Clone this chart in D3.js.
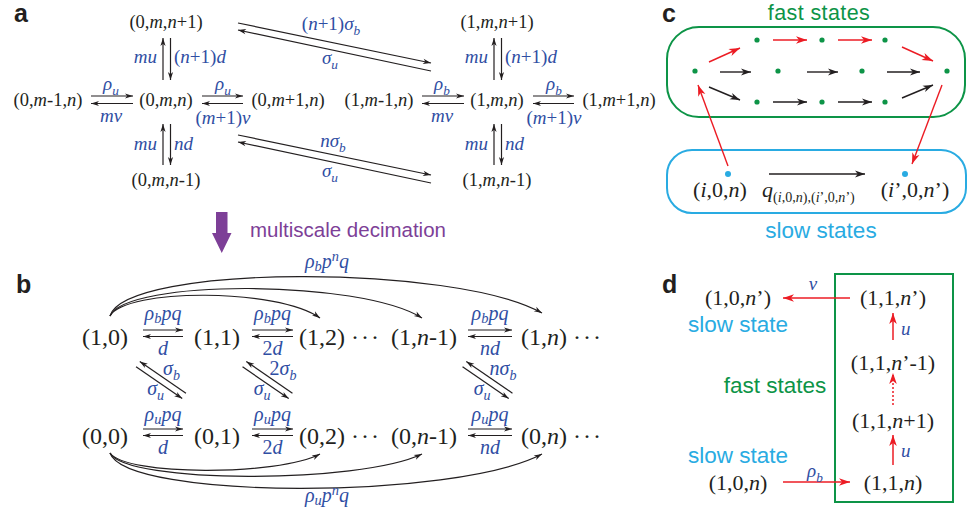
<!DOCTYPE html>
<html><head><meta charset="utf-8">
<script src="https://cdn.jsdelivr.net/npm/d3@7"></script>
<style>body{margin:0;background:#fff}svg{display:block}</style>
</head><body>
<svg id="fig" width="968" height="515"></svg>
<script>
// ---------------- data (labels / rates) ----------------
const panelLetters = ["a", "b", "c", "d"];
// panel a: [top, left, centre, right, bottom] for the unbound (0) and bound (1) promoter
const aStatesUnbound = ["(0,*m*,*n*+1)", "(0,*m*-1,*n*)", "(0,*m*,*n*)", "(0,*m*+1,*n*)", "(0,*m*,*n*-1)"];
const aStatesBound   = ["(1,*m*,*n*+1)", "(1,*m*-1,*n*)", "(1,*m*,*n*)", "(1,*m*+1,*n*)", "(1,*m*,*n*-1)"];
const aBirthRates    = ["*ρ*_{*u*}", "*ρ*_{*b*}"];
const aDeathLeft     = ["*mv*", "*mv*"];
const aDeathRight    = ["(*m*+1)*v*", "(*m*+1)*v*"];
const aUpRates       = ["*mu*", "*mu*"];
const aDownRates     = ["(*n*+1)*d*", "*nd*"];
const aSwitchOn      = ["(*n*+1)*σ*_{*b*}", "*nσ*_{*b*}"];
const aSwitchOff     = ["*σ*_{*u*}", "*σ*_{*u*}"];
const decimationText = "multiscale decimation";
// panel b
const bTopStates    = ["(1,0)", "(1,1)", "(1,2)", "···", "(1,*n*-1)", "(1,*n*)", "···"];
const bBottomStates = ["(0,0)", "(0,1)", "(0,2)", "···", "(0,*n*-1)", "(0,*n*)", "···"];
const bStepPairs    = [[0, 1], [1, 2], [4, 5]];
const bTopForward   = ["*ρ*_{*b*}*pq*", "*ρ*_{*b*}*pq*", "*ρ*_{*b*}*pq*"];
const bBottomForward= ["*ρ*_{*u*}*pq*", "*ρ*_{*u*}*pq*", "*ρ*_{*u*}*pq*"];
const bBackward     = ["*d*", "2*d*", "*nd*"];
const bSwitchBind   = ["*σ*_{*b*}", "2*σ*_{*b*}", "*nσ*_{*b*}"];
const bSwitchUnbind = ["*σ*_{*u*}", "*σ*_{*u*}", "*σ*_{*u*}"];
const bJumpTargets  = [2, 4, 5];
const bJumpTop      = "*ρ*_{*b*}*p*^{*n*}*q*";
const bJumpBottom   = "*ρ*_{*u*}*p*^{*n*}*q*";
// panel c
const cGroupTitles  = ["fast states", "slow states"];
const cFastRowSizes = [3, 4, 3];
const cSlowStates   = ["(*i*,0,*n*)", "(*i*’,0,*n*’)"];
const cEffectiveRate= "*q*_{(*i*,0,*n*),(*i*’,0,*n*’)}";
// panel d
const dFastChain    = ["(1,1,*n*)", "(1,1,*n*+1)", "(1,1,*n*’-1)", "(1,1,*n*’)"];
const dSlowStates   = ["(1,0,*n*)", "(1,0,*n*’)"];
const dChainRates   = ["*u*", "*u*"];
const dEntryRate    = "*ρ*_{*b*}";
const dExitRate     = "*v*";
const dGroupLabels  = ["slow state", "fast states", "slow state"];

// ---------------- styles ----------------
const SERIF = "'Liberation Serif','Times New Roman',serif";
const SANS  = "'Liberation Sans',Arial,Helvetica,sans-serif";
const INK = "#231f20", BLUE = "#2f4ea3", RED = "#ec1c24", GREEN = "#0d9447", SKY = "#29abe2", PURPLE = "#7d3f97";

const svg = d3.select("#fig");
svg.append("rect").attr("width", 968).attr("height", 515).attr("fill", "#fff");
const defs = svg.append("defs");
function marker(id, color, len, half) {
  defs.append("marker").attr("id", id)
    .attr("viewBox", `${-len - 1} ${-half - 1} ${len + 2} ${2 * half + 2}`)
    .attr("refX", 0).attr("refY", 0)
    .attr("markerWidth", len + 2).attr("markerHeight", 2 * half + 2)
    .attr("markerUnits", "userSpaceOnUse").attr("orient", "auto")
    .append("path").attr("d", `M0,0L${-len},${-half}L${-len * 0.72},0L${-len},${half}Z`).attr("fill", color);
}
marker("ak", INK, 8, 2.6);
marker("akl", INK, 10, 3.4);
marker("ar", RED, 11, 3.8);

function parseRich(str) {
  const segs = []; let italic = false, buf = "", i = 0;
  const flush = () => { if (buf) segs.push({ t: buf, italic, pos: 0 }); buf = ""; };
  while (i < str.length) {
    const ch = str[i];
    if (ch === "*") { flush(); italic = !italic; i++; }
    else if (ch === "_" || ch === "^") {
      flush();
      const pos = ch === "_" ? "sub" : "sup"; i++;
      let grp;
      if (str[i] === "{") { const j = str.indexOf("}", i); grp = str.slice(i + 1, j); i = j + 1; }
      else { grp = str[i]; i++; }
      let b2 = "";
      for (const c of grp) {
        if (c === "*") { if (b2) segs.push({ t: b2, italic, pos }); b2 = ""; italic = !italic; }
        else b2 += c;
      }
      if (b2) segs.push({ t: b2, italic, pos });
    } else { buf += ch; i++; }
  }
  flush();
  return segs;
}
function rich(g, str, x, y, o) {
  const fs = o.size;
  const t = g.append("text").attr("x", x).attr("y", y)
    .attr("font-family", o.family || SERIF).attr("font-size", fs)
    .attr("fill", o.color || INK).attr("text-anchor", o.anchor || "middle");
  if (o.spacing) t.attr("letter-spacing", o.spacing);
  let cur = 0;
  parseRich(str).forEach(s => {
    const shift = s.pos === "sub" ? fs * (o.subDrop || 0.24) : s.pos === "sup" ? -fs * 0.36 : 0;
    t.append("tspan").attr("dy", shift - cur)
      .attr("font-size", s.pos ? fs * (o.subScale || 0.7) : null)
      .attr("font-style", s.italic ? "italic" : "normal").text(s.t);
    cur = shift;
  });
  return t;
}
function line(g, x1, y1, x2, y2, o = {}) {
  const l = g.append("line").attr("x1", x1).attr("y1", y1).attr("x2", x2).attr("y2", y2)
    .attr("stroke", o.color || INK).attr("stroke-width", o.width || 1.2);
  if (o.marker) l.attr("marker-end", `url(#${o.marker})`);
  if (o.dash) l.attr("stroke-dasharray", o.dash);
  return l;
}
function letter(txt, x, y) {
  svg.append("text").attr("x", x).attr("y", y).attr("font-family", SANS).attr("font-weight", "bold")
    .attr("font-size", 25).attr("fill", INK).text(txt);
}

// ---------------- panel letters ----------------
const letterPos = [[14, 22], [16, 293], [662, 22], [662, 293]];
panelLetters.forEach((L, k) => letter(L, letterPos[k][0], letterPos[k][1]));

// ---------------- panel a ----------------
const gA = svg.append("g");
const aCx = d3.scaleOrdinal().domain([0, 1]).range([166, 497]);
const aRowY = d3.scaleOrdinal().domain(["top", "mid", "bot"]).range([28, 106, 186]);
const SA = 18.5, RA = 19;
[aStatesUnbound, aStatesBound].forEach((states, k) => {
  const cx = aCx(k);
  rich(gA, states[0], cx, aRowY("top"), { size: SA });
  rich(gA, states[1], cx - 118, aRowY("mid"), { size: SA });
  rich(gA, states[2], cx, aRowY("mid"), { size: SA });
  rich(gA, states[3], cx + 122, aRowY("mid"), { size: SA });
  rich(gA, states[4], cx, aRowY("bot"), { size: SA });
  // horizontal pairs
  [[-75, -33], [36, 77]].forEach(([a, b]) => {
    line(gA, cx + a, 96, cx + b, 96, { marker: "ak" });
    line(gA, cx + b, 103.5, cx + a, 103.5, { marker: "ak" });
  });
  rich(gA, aBirthRates[k], cx - 55, 90, { size: RA, color: BLUE });
  rich(gA, aDeathLeft[k], cx - 55, 122, { size: RA, color: BLUE });
  rich(gA, aBirthRates[k], cx + 57, 90, { size: RA, color: BLUE });
  rich(gA, aDeathRight[k], cx + 57, 124, { size: RA, color: BLUE });
  // vertical pairs
  [[38, 80, 63], [124, 165, 150]].forEach(([t, b, ly], j) => {
    line(gA, cx - 3, b, cx - 3, t, { marker: "ak" });
    line(gA, cx + 4.5, t, cx + 4.5, b, { marker: "ak" });
    rich(gA, aUpRates[k], cx - 9, ly, { size: RA, color: BLUE, anchor: "end" });
    rich(gA, j === 0 ? aDownRates[0] : aDownRates[1], cx + 8, ly, { size: RA, color: BLUE, anchor: "start" });
  });
});
// switching pairs between clusters
[[23, 63, 30, 71], [135, 175, 142, 183]].forEach(([ya, yb, yc, yd]) => {
  line(gA, 238, ya, 431, yb, { marker: "ak" });
  line(gA, 431, yd, 238, yc, { marker: "ak" });
});
rich(gA, aSwitchOn[0], 331, 30, { size: RA, color: BLUE });
rich(gA, aSwitchOff[0], 330, 64, { size: RA, color: BLUE });
rich(gA, aSwitchOn[1], 333, 147, { size: RA, color: BLUE });
rich(gA, aSwitchOff[1], 330, 177, { size: RA, color: BLUE });

// decimation arrow
svg.append("path").attr("d", "M216,212L227.5,212L227.5,233L231.5,233L221.75,253L212,233L216,233Z").attr("fill", PURPLE);
svg.append("text").attr("x", 250).attr("y", 237).attr("font-family", SANS).attr("font-size", 20.5)
  .attr("fill", PURPLE).text(decimationText);

// ---------------- panel b ----------------
const gB = svg.append("g");
const bColX = d3.scaleOrdinal().domain(d3.range(7)).range([105, 217, 322, 366, 424, 544, 588]);
const bRowY = d3.scaleOrdinal().domain([1, 0]).range([345, 444]);
const bLabelLift = d3.scaleOrdinal().domain([1, 0]).range([25, 23]);
const SB = 24, RB = 20;
[[bTopStates, 1], [bBottomStates, 0]].forEach(([states, r]) => {
  states.forEach((s, c) => {
    const dots = s === "···";
    rich(gB, s, bColX(c), bRowY(r), { size: SB, spacing: dots ? 2 : null });
  });
});
const bArrowSpan = [[143, 183], [252, 293], [468, 512]];
bStepPairs.forEach((p, j) => {
  const [x1, x2] = bArrowSpan[j];
  const xm = (x1 + x2) / 2;
  [1, 0].forEach(r => {
    const yb = bRowY(r);
    line(gB, x1, yb - 15, x2, yb - 15, { marker: "ak" });
    line(gB, x2, yb - 8.5, x1, yb - 8.5, { marker: "ak" });
    rich(gB, r === 1 ? bTopForward[j] : bBottomForward[j], xm, yb - bLabelLift(r), { size: RB, color: BLUE, subScale: 0.72, subDrop: 0.16 });
    rich(gB, bBackward[j], xm, yb + 10, { size: RB, color: BLUE });
  });
});
// diagonal switching pairs
const bDiagX = [161, 267.5, 487.5], bDiagY = 380;
const ang = 34.5 * Math.PI / 180, ux = Math.cos(ang), uy = Math.sin(ang), hl = 28, off = 3.3;
bDiagX.forEach((cx, j) => {
  const px = uy * off, py = -ux * off; // toward upper-right
  line(gB, cx + px + ux * hl, bDiagY + py + uy * hl, cx + px - ux * hl, bDiagY + py - uy * hl, { marker: "ak" });
  line(gB, cx - px - ux * hl, bDiagY - py - uy * hl, cx - px + ux * hl, bDiagY - py + uy * hl, { marker: "ak" });
  rich(gB, bSwitchBind[j], cx + 2, 375, { size: RB, color: BLUE, anchor: "start" });
  rich(gB, bSwitchUnbind[j], cx + 3, 395, { size: RB, color: BLUE, anchor: "end" });
});
// long-range jump arcs
const topArcCtrl = [288, 279, 264], botArcCtrl = [476, 484, 500];
const topArcEnd = [318, 318, 313], botArcEnd = [454, 454, 454];
bJumpTargets.forEach((t, j) => {
  const x0 = 110, x1 = bColX(t) - 2;
  const dx = x1 - x0;
  gB.append("path").attr("d", `M${x0},316 C${x0 + 16},${topArcCtrl[j]} ${x1 - dx * 0.2},${topArcCtrl[j]} ${x1},${topArcEnd[j]}`)
    .attr("fill", "none").attr("stroke", INK).attr("stroke-width", 1.2).attr("marker-end", "url(#ak)");
  gB.append("path").attr("d", `M${x0},453 C${x0 + 16},${botArcCtrl[j]} ${x1 - dx * 0.2},${botArcCtrl[j]} ${x1},${botArcEnd[j]}`)
    .attr("fill", "none").attr("stroke", INK).attr("stroke-width", 1.2).attr("marker-end", "url(#ak)");
});
rich(gB, bJumpTop, 327, 268, { size: RB, color: BLUE, subScale: 0.72, subDrop: 0.16 });
rich(gB, bJumpBottom, 327, 502, { size: RB, color: BLUE, subScale: 0.72, subDrop: 0.16 });

// ---------------- panel c ----------------
const gC = svg.append("g");
gC.append("rect").attr("x", 667).attr("y", 27).attr("width", 298).attr("height", 90).attr("rx", 32)
  .attr("fill", "none").attr("stroke", GREEN).attr("stroke-width", 2);
gC.append("rect").attr("x", 667).attr("y", 150).attr("width", 299).attr("height", 63).attr("rx", 25)
  .attr("fill", "none").attr("stroke", SKY).attr("stroke-width", 2);
gC.append("text").attr("x", 819).attr("y", 19.5).attr("text-anchor", "middle").attr("font-family", SANS)
  .attr("font-size", 21.5).attr("letter-spacing", 0.4).attr("fill", GREEN).text(cGroupTitles[0]);
gC.append("text").attr("x", 821).attr("y", 238).attr("text-anchor", "middle").attr("font-family", SANS)
  .attr("font-size", 22.5).attr("fill", SKY).text(cGroupTitles[1]);
const cRowX = [[757, 822, 885], [695, 778, 862, 947], [757, 822, 885]];
const cRowY = d3.scalePoint().domain([0, 1, 2]).range([40, 102]);
cFastRowSizes.forEach((n, r) => {
  d3.range(n).forEach(k => gC.append("circle").attr("cx", cRowX[r][k]).attr("cy", cRowY(r)).attr("r", 2.6).attr("fill", GREEN));
});
// paths through fast states
const cRed = [[709, 62, 740, 48], [773, 40, 807, 40], [838, 40, 872, 40], [902, 47, 933, 61]];
const cBlack = [[720, 72, 751, 72], [807, 72, 838, 72], [887, 72, 920, 72],
  [709, 87, 740, 100], [773, 102, 807, 102], [838, 102, 872, 102], [902, 98, 933, 85]];
cRed.forEach(s => line(gC, ...s, { color: RED, width: 1.4, marker: "ar" }));
cBlack.forEach(s => line(gC, ...s, { width: 1.4, marker: "akl" }));
line(gC, 728, 166, 698, 85, { color: RED, width: 1.4, marker: "ar" });
line(gC, 942, 85, 912, 164, { color: RED, width: 1.4, marker: "ar" });
gC.append("circle").attr("cx", 728).attr("cy", 174).attr("r", 3).attr("fill", SKY);
gC.append("circle").attr("cx", 905).attr("cy", 174).attr("r", 3).attr("fill", SKY);
line(gC, 769, 174, 865, 174, { width: 1.4, marker: "akl" });
rich(gC, cSlowStates[0], 720, 197, { size: 22 });
rich(gC, cSlowStates[1], 915, 197, { size: 22 });
rich(gC, cEffectiveRate, 762, 197, { size: 22, anchor: "start", subScale: 0.64, subDrop: 0.22 });

// ---------------- panel d ----------------
const gD = svg.append("g");
gD.append("rect").attr("x", 835).attr("y", 274).attr("width", 118).attr("height", 228)
  .attr("fill", "none").attr("stroke", GREEN).attr("stroke-width", 2);
const dChainY = d3.scaleOrdinal().domain([0, 1, 2, 3]).range([490, 428, 370, 305]);
dFastChain.forEach((s, k) => rich(gD, s, 893, dChainY(k), { size: 22 }));
rich(gD, dSlowStates[0], 738, 490, { size: 22 });
rich(gD, dSlowStates[1], 738, 305, { size: 22 });
line(gD, 783, 482, 850, 482, { color: RED, width: 1.5, marker: "ar" });
line(gD, 850, 298, 783, 298, { color: RED, width: 1.5, marker: "ar" });
line(gD, 893, 465, 893, 435, { color: RED, width: 1.5, marker: "ar" });
line(gD, 893, 405, 893, 373, { color: RED, width: 1.5, marker: "ar", dash: "2,2" });
line(gD, 893, 340, 893, 313, { color: RED, width: 1.5, marker: "ar" });
rich(gD, dEntryRate, 815, 477, { size: 19, color: BLUE });
rich(gD, dExitRate, 813, 290, { size: 19, color: BLUE });
rich(gD, dChainRates[0], 901, 457, { size: 19, color: BLUE, anchor: "start" });
rich(gD, dChainRates[1], 901, 335, { size: 19, color: BLUE, anchor: "start" });
const dLabelPos = [[738, 332, SKY], [775, 393, GREEN], [738, 463, SKY]];
dGroupLabels.forEach((s, k) => gD.append("text").attr("x", dLabelPos[k][0]).attr("y", dLabelPos[k][1])
  .attr("text-anchor", "middle").attr("font-family", SANS).attr("font-size", 22.5).attr("fill", dLabelPos[k][2]).text(s));
</script>
</body></html>
